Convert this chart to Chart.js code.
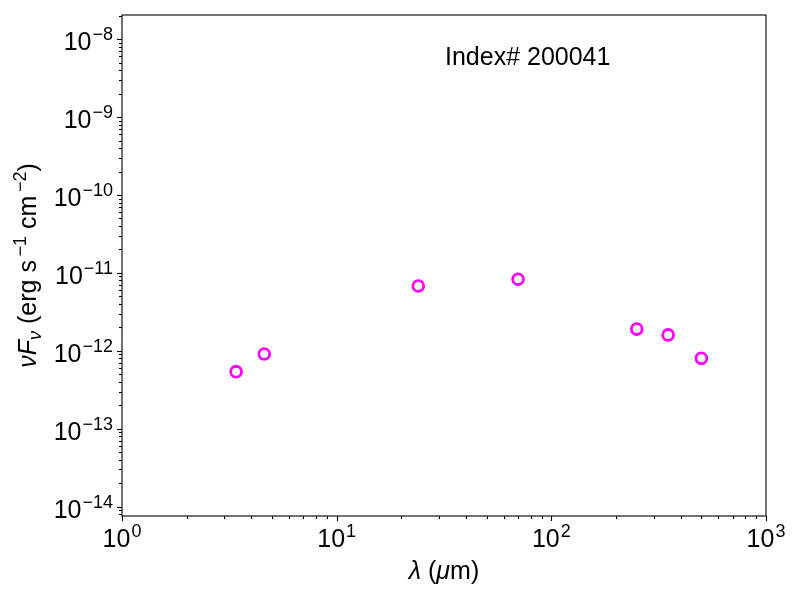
<!DOCTYPE html>
<html>
<head>
<meta charset="utf-8">
<script src="https://cdn.jsdelivr.net/npm/chart.js@4.4.1/dist/chart.umd.min.js"></script>
<style>
  html, body { margin: 0; padding: 0; background: #fff; }
  #sed { display: block; }
</style>
</head>
<body>
<canvas id="sed" width="800" height="600"></canvas>
<script>
// SED photometry (wavelength in micron, nuFnu in erg s^-1 cm^-2)
const wavelengths = [3.4, 4.6, 24, 70, 250, 350, 500];
const fluxes = [5.4e-13, 9.1e-13, 6.8e-12, 8.3e-12, 1.9e-12, 1.6e-12, 8.0e-13];

// axis limits and decade tick exponents
const xMin = 1, xMax = 1000;
const yMin = Math.pow(10, -14.12), yMax = Math.pow(10, -7.69);
const xTickExps = [0, 1, 2, 3];
const yTickExps = [-14, -13, -12, -11, -10, -9, -8];

const sourceLabel = 'Index# 200041';
const FONT = '"Liberation Sans", Arial, Helvetica, sans-serif';

// draws "10" with a superscript exponent; align = 'center' or 'right'
function drawPow(ctx, exp, x, baseline, align) {
    const expText = exp < 0 ? '\u2212' + Math.abs(exp) : String(exp);
    ctx.font = '25px ' + FONT;
    const wBase = ctx.measureText('10').width;
    ctx.font = '18px ' + FONT;
    const wExp = ctx.measureText(expText).width;
    const total = wBase + wExp + 1;
    let left = align === 'right' ? x - total : x - total / 2;
    ctx.textAlign = 'left';
    ctx.textBaseline = 'alphabetic';
    ctx.font = '25px ' + FONT;
    ctx.fillText('10', left, baseline);
    ctx.font = '18px ' + FONT;
    ctx.fillText(expText, left + wBase + 1, baseline - 10);
}

// draws a sequence of [text, style] runs; style: n normal, i italic, sup, sub
function drawRuns(ctx, runs, x, y, center) {
    const fonts = {
        n: '25px ' + FONT,
        i: 'italic 25px ' + FONT,
        sup: '18px ' + FONT,
        sub: 'italic 18px ' + FONT
    };
    const shift = { n: 0, i: 0, sup: -10, sub: 5 };
    let total = 0;
    runs.forEach(r => { ctx.font = fonts[r[1]]; total += ctx.measureText(r[0]).width; });
    let cx = center ? x - total / 2 : x;
    ctx.textAlign = 'left';
    ctx.textBaseline = 'alphabetic';
    runs.forEach(r => {
        ctx.font = fonts[r[1]];
        ctx.fillText(r[0], cx, y + shift[r[1]]);
        cx += ctx.measureText(r[0]).width;
    });
}

const axesPlugin = {
    id: 'mplAxes',
    afterDraw(chart) {
        const ctx = chart.ctx;
        const area = chart.chartArea;
        const xs = chart.scales.x, ys = chart.scales.y;
        ctx.save();
        ctx.strokeStyle = '#000';
        ctx.fillStyle = '#000';
        ctx.lineWidth = 1.1;

        // frame
        ctx.strokeRect(area.left, area.top, area.right - area.left, area.bottom - area.top);

        // x ticks
        xTickExps.forEach(e => {
            for (let m = 1; m <= 9; m++) {
                const v = m * Math.pow(10, e);
                if (v < xMin || v > xMax) continue;
                const px = Math.round(xs.getPixelForValue(v)) + 0.5;
                const len = m === 1 ? 5 : 3;
                ctx.beginPath();
                ctx.moveTo(px, area.bottom);
                ctx.lineTo(px, area.bottom + len);
                ctx.stroke();
            }
            drawPow(ctx, e, xs.getPixelForValue(Math.pow(10, e)), area.bottom + 31, 'center');
        });

        // y ticks
        const yExpsAll = [yTickExps[0] - 1].concat(yTickExps);
        yExpsAll.forEach(e => {
            for (let m = 1; m <= 9; m++) {
                const v = m * Math.pow(10, e);
                if (v < yMin || v > yMax) continue;
                const py = Math.round(ys.getPixelForValue(v)) + 0.5;
                const len = m === 1 ? 5 : 3;
                ctx.beginPath();
                ctx.moveTo(area.left, py);
                ctx.lineTo(area.left - len, py);
                ctx.stroke();
            }
        });
        yTickExps.forEach(e => {
            drawPow(ctx, e, area.left - 9, ys.getPixelForValue(Math.pow(10, e)) + 11, 'right');
        });

        // axis titles
        drawRuns(ctx, [['\u03bb', 'i'], [' (', 'n'], ['\u03bc', 'i'], ['m)', 'n']],
            (area.left + area.right) / 2, 579, true);

        ctx.save();
        ctx.translate(36, (area.top + area.bottom) / 2);
        ctx.rotate(-Math.PI / 2);
        drawRuns(ctx, [['\u03bdF', 'i'], ['\u03bd', 'sub'], [' (erg s', 'n'], ['\u2009\u22121', 'sup'],
            [' cm', 'n'], ['\u2009\u22122', 'sup'], [')', 'n']], 0, 0, true);
        ctx.restore();

        // source annotation
        ctx.font = '25px ' + FONT;
        ctx.textAlign = 'left';
        ctx.textBaseline = 'alphabetic';
        ctx.fillText(sourceLabel, 445, 65);

        ctx.restore();
    }
};

new Chart(document.getElementById('sed').getContext('2d'), {
    type: 'scatter',
    data: {
        datasets: [{
            data: wavelengths.map((w, i) => ({ x: w, y: fluxes[i] })),
            pointStyle: 'circle',
            pointRadius: 5.4,
            pointBorderWidth: 2.8,
            pointBorderColor: '#ff00ff',
            pointBackgroundColor: 'rgba(0,0,0,0)',
            showLine: false
        }]
    },
    options: {
        responsive: false,
        animation: false,
        devicePixelRatio: 1,
        layout: { padding: { left: 0, right: 34, top: 15, bottom: 0 } },
        plugins: {
            legend: { display: false },
            tooltip: { enabled: false }
        },
        scales: {
            x: {
                type: 'logarithmic',
                min: xMin,
                max: xMax,
                grid: { display: false },
                border: { display: false },
                ticks: { display: false },
                afterFit(scale) { scale.height = 84; }
            },
            y: {
                type: 'logarithmic',
                min: yMin,
                max: yMax,
                grid: { display: false },
                border: { display: false },
                ticks: { display: false },
                afterFit(scale) { scale.width = 122; }
            }
        }
    },
    plugins: [axesPlugin]
});
</script>
</body>
</html>
